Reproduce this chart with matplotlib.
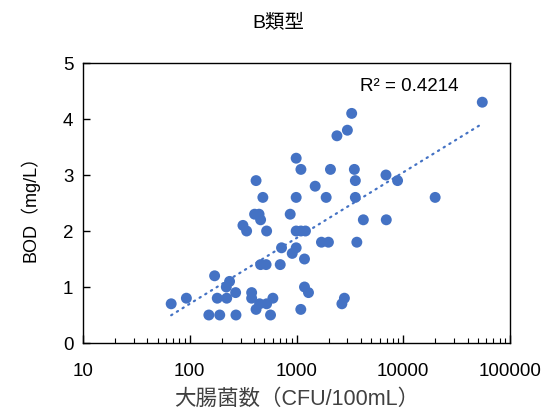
import numpy as np
import matplotlib
matplotlib.use("Agg")
import matplotlib.pyplot as plt
from matplotlib.ticker import LogLocator, NullFormatter, FixedLocator, FixedFormatter

plt.rcParams['font.family'] = ['Liberation Sans', 'Noto Sans CJK JP', 'DejaVu Sans']

title = "B類型"
x_label = "大腸菌数（CFU/100mL）"
y_label = "BOD（mg/L）"
r2_text = "R² = 0.4214"

coliform = [67, 93, 171, 151, 191, 271, 181, 222, 269, 236, 220, 315, 341,
            380, 380, 418, 451, 525, 601, 571, 461, 519, 704, 724, 912, 993,
            1188, 1097, 1188, 1295, 993, 1100, 1213, 525, 405, 446, 461,
            418, 484, 873, 993, 1896, 3558, 1496, 993, 1100, 2080, 3483, 3558,
            2392, 2997, 3288, 55000, 6890, 8846, 19900, 4228, 6935, 1713,
            1991, 3675, 2810, 2662]
bod = [0.7, 0.8, 1.2, 0.5, 0.5, 0.5, 0.8, 0.8, 0.9, 1.1, 1.0, 2.1, 2.0,
       0.9, 0.8, 0.6, 0.7, 0.7, 0.8, 0.5, 1.4, 1.4, 1.4, 1.7, 1.6, 1.7,
       1.5, 0.6, 1.0, 0.9, 2.0, 2.0, 2.0, 2.0, 2.3, 2.3, 2.2,
       2.9, 2.6, 2.3, 2.6, 2.6, 2.6, 2.8, 3.3, 3.1, 3.1, 3.1, 2.9,
       3.7, 3.8, 4.1, 4.3, 3.0, 2.9, 2.6, 2.2, 2.2, 1.8,
       1.8, 1.8, 0.8, 0.7]

x_ticks = [10, 100, 1000, 10000, 100000]
x_tick_labels = ["10", "100", "1000", "10000", "100000"]
y_ticks = [0, 1, 2, 3, 4, 5]

blue = "#4472C4"

fig = plt.figure(figsize=(5.57, 4.14), dpi=100)
ax = fig.add_axes([83/557, 70/414, 427/557, 280/414])

ax.scatter(coliform, bod, s=62, color=blue, edgecolors='none', zorder=3)

# logarithmic trendline
x = np.array(coliform, dtype=float)
y = np.array(bod, dtype=float)
a, b = np.polyfit(np.log(x), y, 1)
xs = np.logspace(np.log10(x.min()), np.log10(x.max()), 200)
ax.plot(xs, a*np.log(xs) + b, color=blue, lw=1.6,
        linestyle=(0, (0.6, 2.4)), dash_capstyle='round', zorder=2)

ax.set_xscale('log')
ax.set_xlim(10, 100000)
ax.set_ylim(0, 5)
ax.xaxis.set_major_locator(FixedLocator(x_ticks))
ax.xaxis.set_major_formatter(FixedFormatter(x_tick_labels))
ax.xaxis.set_minor_locator(LogLocator(base=10, subs=np.arange(2, 10)))
ax.xaxis.set_minor_formatter(NullFormatter())
ax.set_yticks(y_ticks)

ax.tick_params(axis='x', which='major', direction='in', length=6, width=1,
               labelsize=13.5, pad=14, top=False)
ax.tick_params(axis='x', which='minor', direction='in', length=3.5, width=0.8,
               top=False)
ax.tick_params(axis='y', which='major', direction='in', length=5, width=1,
               labelsize=13.5, pad=7, right=False)

for sp in ax.spines.values():
    sp.set_color('black')
    sp.set_linewidth(1.0)

ax.set_xlabel(x_label, fontsize=15.5, color='#404040', labelpad=6)
ax.set_ylabel(y_label, fontsize=13, labelpad=17)
fig.text(0.5, 1 - 22/414, title, ha='center', va='center', fontsize=14)
ax.text(0.649, 0.918, r2_text, transform=ax.transAxes, fontsize=13.5,
        ha='left', va='center')

fig.savefig("out.png", dpi=100)
